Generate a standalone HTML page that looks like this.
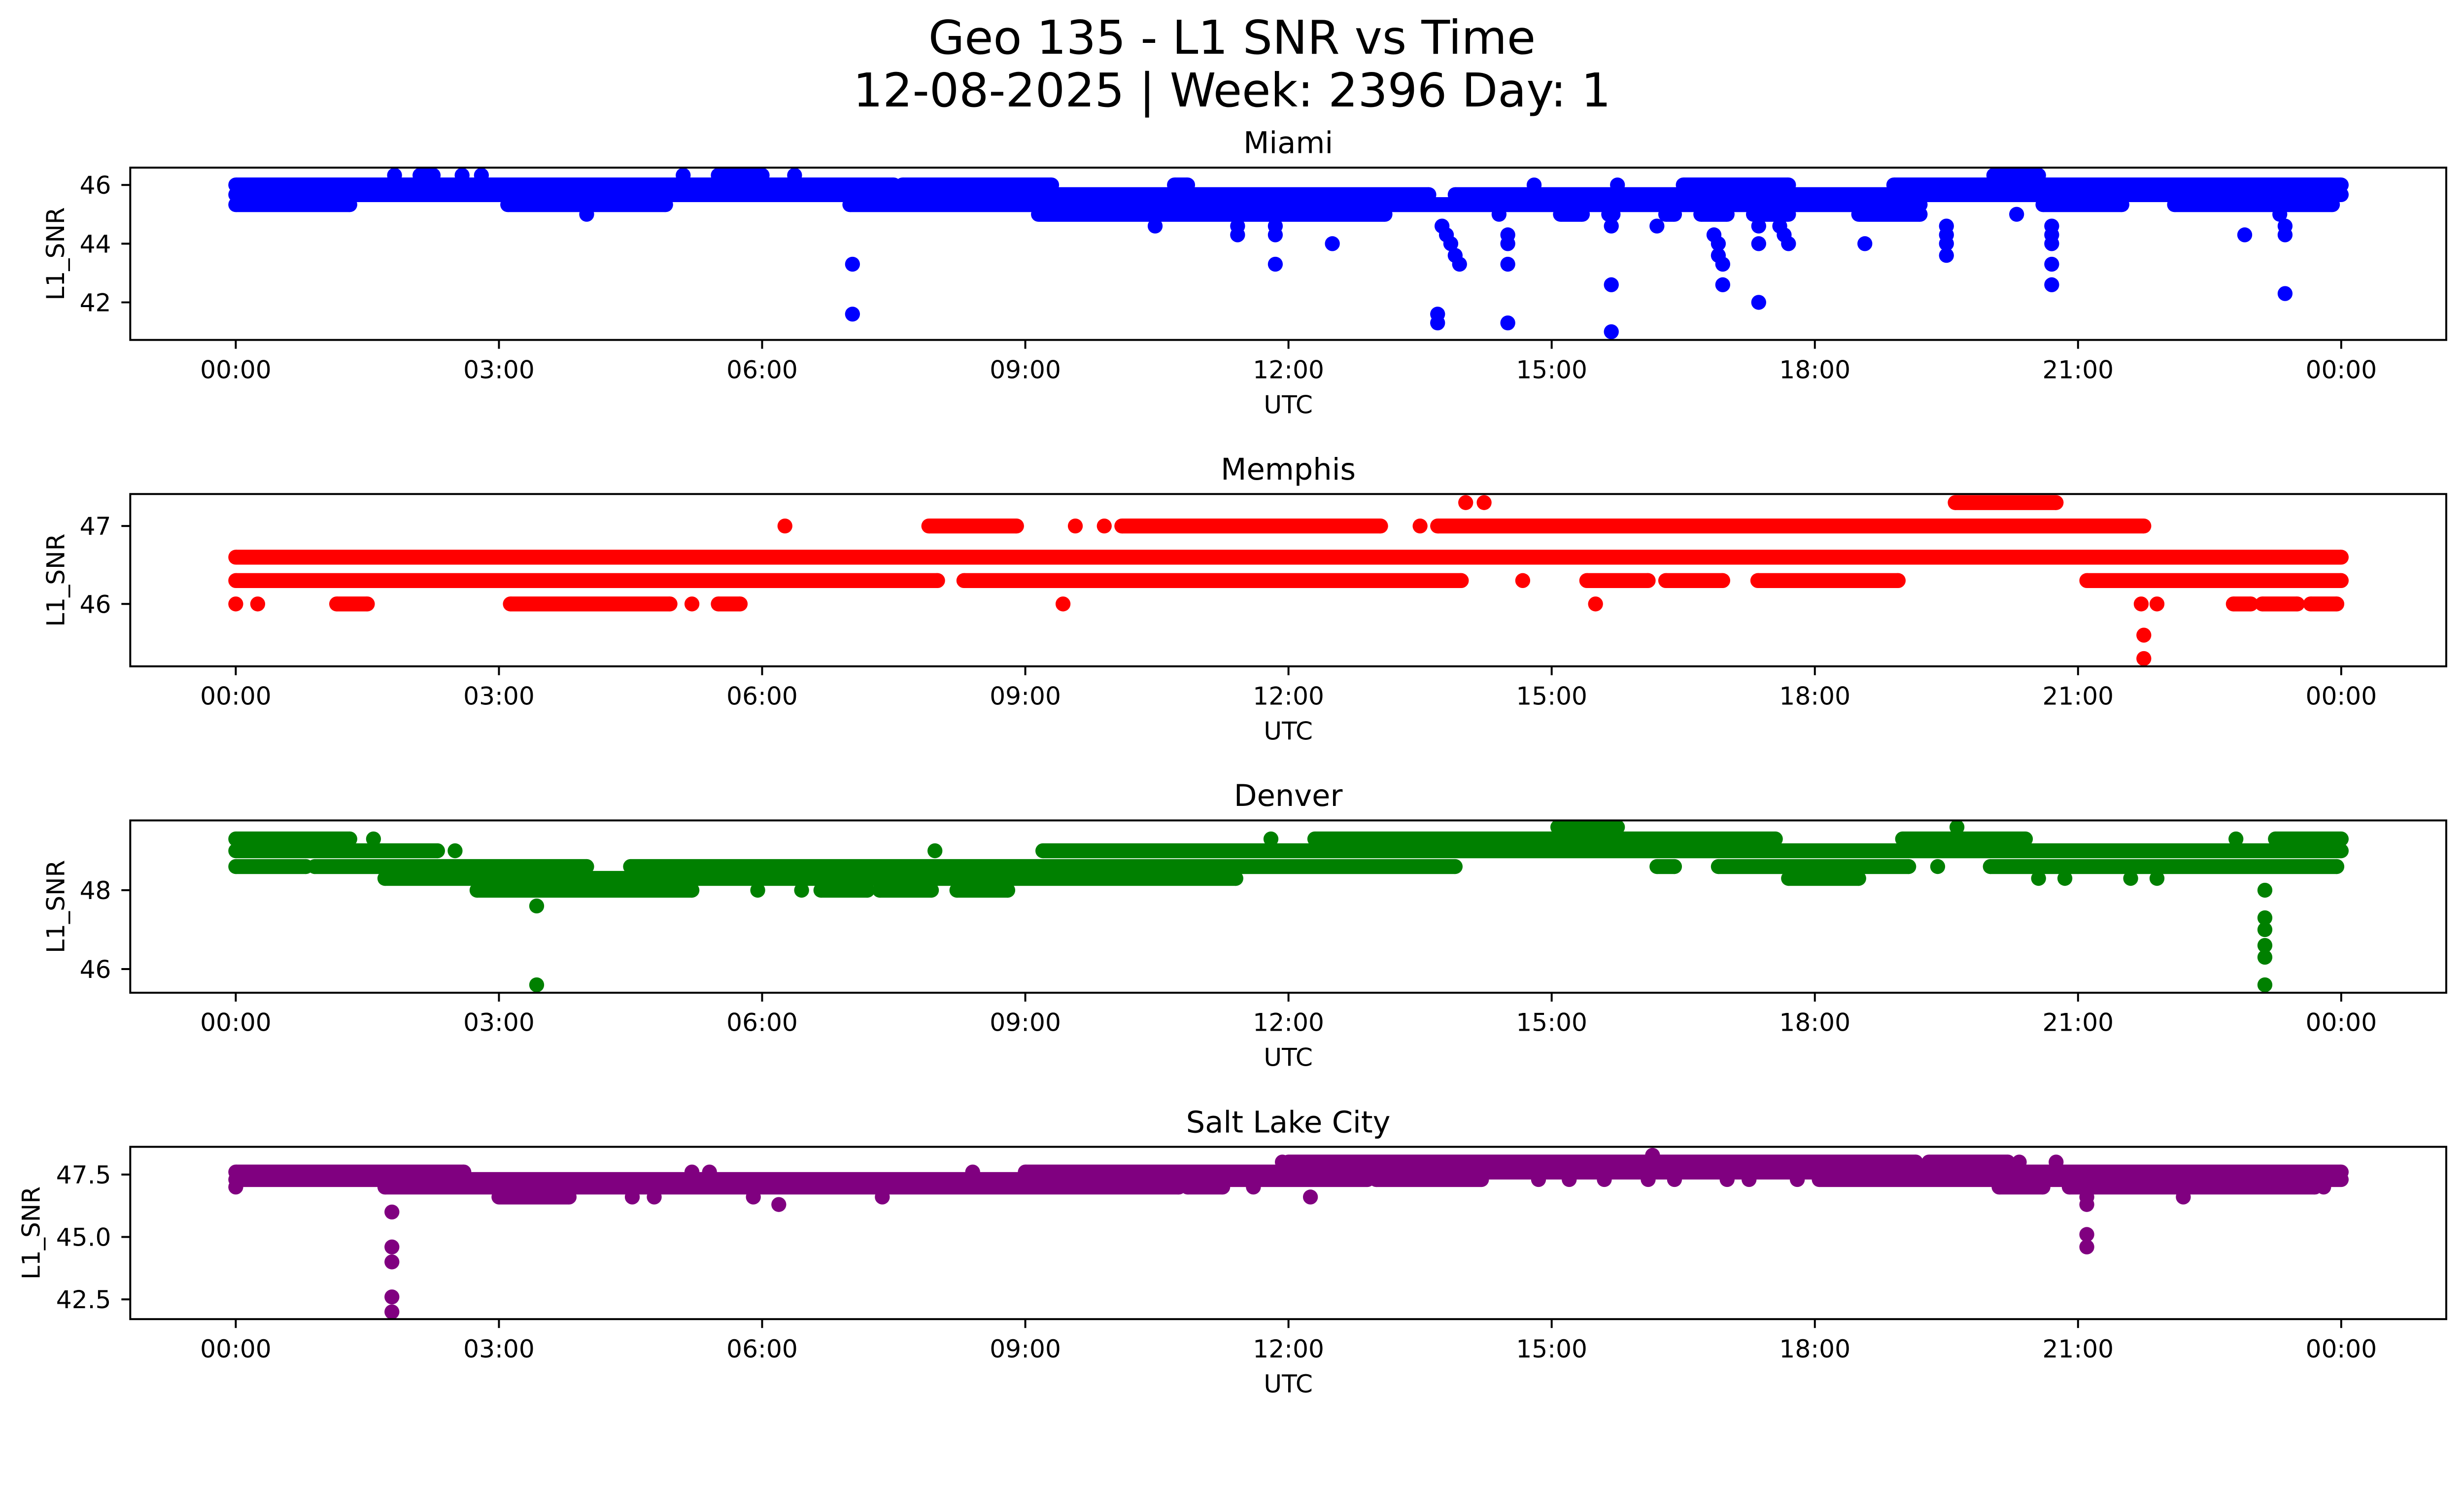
<!DOCTYPE html>
<html><head><meta charset="utf-8"><title>Geo 135 - L1 SNR vs Time</title>
<style>html,body{margin:0;padding:0;background:#fff;overflow:hidden}svg{display:block;width:100%;height:auto}text{font-family:"DejaVu Sans","Liberation Sans",sans-serif;fill:#000}</style>
</head><body>
<svg id="fig" xmlns="http://www.w3.org/2000/svg" viewBox="0 0 5278 3033">
<rect width="5278" height="3033" fill="#fff"/>
<text x="2639" y="115" font-size="100" text-anchor="middle">Geo 135 - L1 SNR vs Time</text>
<text x="2639" y="228" font-size="100" text-anchor="middle">12-08-2025 | Week: 2396 Day: 1</text>
<g id="panels"></g>
</svg>
<script>
// ---- shared x axis ----
const xTickHours = [0,3,6,9,12,15,18,21,24];
const xTickLabels = ["00:00","03:00","06:00","09:00","12:00","15:00","18:00","21:00","00:00"];

// ---- Miami ----
const miamiBandStart = [1.81,2.1,2.58,2.8,5.1,5.5,6.37,20.04, 0,7.6,10.7,14.8,15.75,16.5,18.9, 0,13.9, 0,3.1,7.0,20.6,22.1, 4.0,9.15,14.4,15.1,15.65,16.3,16.7,17.3,18.5,23.3];
const miamiBandEnd   = [1.81,2.25,2.58,2.8,5.1,6.0,6.37,20.55, 7.5,9.3,10.85,14.8,15.75,17.7,24, 13.6,24, 1.3,4.9,19.2,21.5,23.9, 4.0,13.1,14.4,15.35,15.7,16.4,17.0,17.7,19.2,23.3];
const miamiBandValue = [46.33,46.33,46.33,46.33,46.33,46.33,46.33,46.33, 46.0,46.0,46.0,46.0,46.0,46.0,46.0, 45.67,45.67, 45.33,45.33,45.33,45.33,45.33, 45.0,45.0,45.0,45.0,45.0,45.0,45.0,45.0,45.0,45.0];
const miamiOutTime  = [7.03,7.03,10.48,11.42,11.42,11.85,11.85,11.85,12.5,13.75,13.8,13.85,13.9,13.95,13.7,13.7,14.5,14.5,14.5,14.5,15.68,15.68,15.68,16.2,16.85,16.9,16.9,16.95,16.95,17.36,17.36,17.36,17.6,17.65,17.7,18.57,19.5,19.5,19.5,19.5,20.3,20.7,20.7,20.7,20.7,20.7,22.9,23.36,23.36,23.36];
const miamiOutValue = [43.3,41.6,44.6,44.6,44.3,44.6,44.3,43.3,44.0,44.6,44.3,44.0,43.6,43.3,41.6,41.3,44.3,44.0,43.3,41.3,44.6,42.6,41.0,44.6,44.3,44.0,43.6,43.3,42.6,44.6,44.0,42.0,44.6,44.3,44.0,44.0,44.6,44.3,44.0,43.6,45.0,44.6,44.3,44.0,43.3,42.6,44.3,44.6,44.3,42.3];

// ---- Memphis ----
const memphisBandStart = [14.02,14.23,19.6, 6.26,7.9,9.57,9.9,10.1,13.5,13.7, 0, 0,8.3,14.67,15.4,16.3,17.35,21.1, 0,0.25,1.15,3.13,5.2,5.5,9.43,15.5,21.72,21.9,22.77,23.1,23.65];
const memphisBandEnd   = [14.02,14.23,20.75, 6.26,8.9,9.57,9.9,13.05,13.5,21.75, 24, 8.0,13.97,14.67,16.1,16.95,18.95,24, 0,0.25,1.5,4.95,5.2,5.75,9.43,15.5,21.72,21.9,22.97,23.5,23.95];
const memphisBandValue = [47.3,47.3,47.3, 47.0,47.0,47.0,47.0,47.0,47.0,47.0, 46.6, 46.3,46.3,46.3,46.3,46.3,46.3,46.3, 46.0,46.0,46.0,46.0,46.0,46.0,46.0,46.0,46.0,46.0,46.0,46.0,46.0];
const memphisOutTime  = [21.75,21.75];
const memphisOutValue = [45.6,45.3];

// ---- Denver ----
const denverBandStart = [15.07,19.62, 0,1.57,11.8,12.3,19.0,22.8,23.25, 0,2.5,7.97,9.2, 0,0.9,4.5,16.2,16.9,19.4,20.0, 1.7,17.7,20.55,20.85,21.6,21.9, 2.75,5.95,6.45,6.67,7.34,8.22];
const denverBandEnd   = [15.75,19.62, 1.3,1.57,11.8,17.55,20.4,22.8,24, 2.3,2.5,7.97,24, 0.8,4.0,13.9,16.4,19.07,19.4,23.95, 11.4,18.5,20.55,20.85,21.6,21.9, 5.2,5.95,6.45,7.2,7.93,8.8];
const denverBandValue = [49.6,49.6, 49.3,49.3,49.3,49.3,49.3,49.3,49.3, 49.0,49.0,49.0,49.0, 48.6,48.6,48.6,48.6,48.6,48.6,48.6, 48.3,48.3,48.3,48.3,48.3,48.3, 48.0,48.0,48.0,48.0,48.0,48.0];
const denverOutTime  = [3.43,3.43,23.13,23.13,23.13,23.13,23.13,23.13];
const denverOutValue = [47.6,45.6,48.0,47.3,47.0,46.6,46.3,45.6];

// ---- Salt Lake City ----
const slcBandStart = [16.15, 11.93,12,19.3,20.33,20.75, 0,5.2,5.4,8.4,9.0, 0,13.0,14.85,15.2,15.6,16.1,16.4,17.0,17.25,17.8,18.05, 0,1.7,10.85,11.6,20.1,20.9,23.8, 3.0,4.52,4.77,5.9,7.37,12.25,21.1,22.2, 6.19,21.1];
const slcBandEnd   = [16.15, 11.93,19.15,20.2,20.33,20.75, 2.6,5.2,5.4,8.4,24, 12.9,14.2,14.85,15.2,15.6,16.1,16.4,17.0,17.25,17.8,24, 0,10.75,11.25,11.6,20.6,23.7,23.8, 3.8,4.52,4.77,5.9,7.37,12.25,21.1,22.2, 6.19,21.1];
const slcBandValue = [48.27, 48.0,48.0,48.0,48.0,48.0, 47.6,47.6,47.6,47.6,47.6, 47.3,47.3,47.3,47.3,47.3,47.3,47.3,47.3,47.3,47.3,47.3, 47.0,47.0,47.0,47.0,47.0,47.0,47.0, 46.6,46.6,46.6,46.6,46.6,46.6,46.6,46.6, 46.3,46.3];
const slcOutTime  = [1.78,1.78,1.78,1.78,1.78,21.1,21.1];
const slcOutValue = [46.0,44.6,44.0,42.6,42.0,45.1,44.6];

// ---- panel axis settings ----
const panelNames = ["Miami","Memphis","Denver","Salt Lake City"];
const panelYTicks = [[42,44,46],[46,47],[46,48],[42.5,45.0,47.5]];
const panelYTickLabels = [["42","44","46"],["46","47"],["46","48"],["42.5","45.0","47.5"]];

const panels = [
  {name:panelNames[0], top:359, yMin:40.72, yMax:46.59, color:"#0000ff", bs:miamiBandStart, be:miamiBandEnd, bv:miamiBandValue, ot:miamiOutTime, ov:miamiOutValue, ylabX:118},
  {name:panelNames[1], top:1058, yMin:45.2, yMax:47.41, color:"#ff0000", bs:memphisBandStart, be:memphisBandEnd, bv:memphisBandValue, ot:memphisOutTime, ov:memphisOutValue, ylabX:119},
  {name:panelNames[2], top:1757, yMin:45.4, yMax:49.77, color:"#008000", bs:denverBandStart, be:denverBandEnd, bv:denverBandValue, ot:denverOutTime, ov:denverOutValue, ylabX:119},
  {name:panelNames[3], top:2456, yMin:41.71, yMax:48.61, color:"#800080", bs:slcBandStart, be:slcBandEnd, bv:slcBandValue, ot:slcOutTime, ov:slcOutValue, ylabX:66}
];

const NS = "http://www.w3.org/2000/svg";
const AX_L = 279, AX_R = 5240, AX_H = 369, R = 16;
function xScale(h){ return 505 + h * (4510/24); }
function mk(tag, attrs, parent){ const e = document.createElementNS(NS, tag); for (const k in attrs) e.setAttribute(k, attrs[k]); parent.appendChild(e); return e; }

const root = document.getElementById("panels");
panels.forEach((p, i) => {
  const yScale = v => p.top + (p.yMax - v) / (p.yMax - p.yMin) * AX_H;
  const slug = p.name.toLowerCase().replace(/ /g, "-");
  const g = mk("g", {}, root);
  
  
  const defs = mk("defs", {}, g);
  const cp = mk("clipPath", {id: "clip" + i}, defs);
  mk("rect", {x: AX_L, y: p.top, width: AX_R - AX_L, height: AX_H}, cp);

  const marks = mk("g", {"clip-path": "url(#clip" + i + ")", fill: p.color}, g);
  
  
  for (let k = 0; k < p.bs.length; k++) {
    const x1 = xScale(p.bs[k]), x2 = xScale(p.be[k]), y = yScale(p.bv[k]);
    const band = mk("g", {}, marks);
    
    
    mk("circle", {cx: x1, cy: y, r: R}, band);
    if (x2 > x1) { mk("rect", {x: x1, y: y - R, width: x2 - x1, height: 2 * R}, band); mk("circle", {cx: x2, cy: y, r: R}, band); }
  }
  for (let k = 0; k < p.ot.length; k++) {
    const c = mk("circle", {cx: xScale(p.ot[k]), cy: yScale(p.ov[k]), r: R}, marks);
    
    
  }

  const frame = mk("rect", {x: AX_L, y: p.top, width: AX_R - AX_L, height: AX_H, fill: "none", stroke: "#000", "stroke-width": 4.2}, g);
  
  

  const bottom = p.top + AX_H;
  xTickHours.forEach((h, j) => {
    const x = xScale(h);
    const t = mk("line", {x1: x, x2: x, y1: bottom, y2: bottom + 19, stroke: "#000", "stroke-width": 4.2}, g);
    
    
    const tl = mk("text", {x: x, y: bottom + 82, "font-size": 53, "text-anchor": "middle"}, g);
    tl.textContent = xTickLabels[j];
    
    
  });
  panelYTicks[i].forEach((v, j) => {
    const y = yScale(v);
    const t = mk("line", {x1: AX_L - 19, x2: AX_L, y1: y, y2: y, stroke: "#000", "stroke-width": 4.2}, g);
    
    
    const tl = mk("text", {x: 238, y: y + 19, "font-size": 53, "text-anchor": "end"}, g);
    tl.textContent = panelYTickLabels[i][j];
    
    
  });
  const xl = mk("text", {x: (AX_L + AX_R) / 2, y: bottom + 157, "font-size": 53, "text-anchor": "middle"}, g);
  xl.textContent = "UTC";
  
  
  const yc = p.top + AX_H / 2;
  const yl = mk("text", {x: p.ylabX + 19, y: yc, "font-size": 53, "text-anchor": "middle", transform: "rotate(-90 " + (p.ylabX + 19) + " " + yc + ")"}, g);
  yl.textContent = "L1_SNR";
  
  
  const ti = mk("text", {x: (AX_L + AX_R) / 2, y: p.top - 31, "font-size": 64, "text-anchor": "middle"}, g);
  ti.textContent = p.name;
  
  
});
</script>
</body></html>
